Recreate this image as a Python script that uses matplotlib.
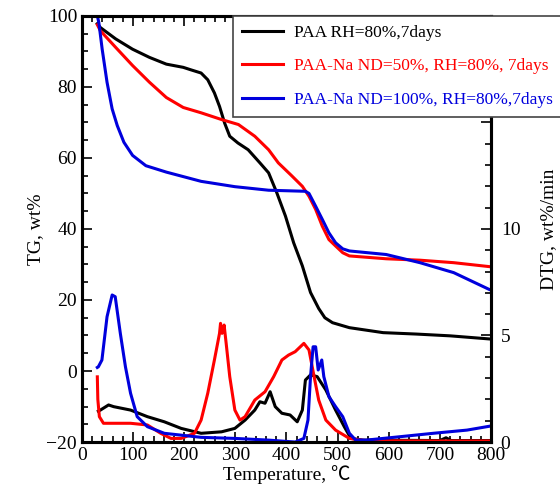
import matplotlib
matplotlib.use('Agg')
import matplotlib.pyplot as plt
from matplotlib.ticker import MultipleLocator, FixedFormatter, FixedLocator

plt.rcParams['font.family'] = ['Liberation Serif', 'Noto Sans CJK SC', 'DejaVu Sans']

labels = ['PAA RH=80%,7days',
          'PAA-Na ND=50%, RH=80%, 7days',
          'PAA-Na ND=100%, RH=80%,7days']
colors = ['black', '#ff0000', '#0000dd']

# TG curves (wt%)
tg_black_t = [30, 36, 66, 99, 132, 165, 198, 213, 233, 246, 259, 269, 279, 289, 305, 325, 348, 365,
              381, 398, 414, 431, 447, 463, 475, 490, 523, 589, 654, 720, 799]
tg_black = [97.8, 96.7, 93.5, 90.6, 88.3, 86.4, 85.5, 84.8, 83.9, 82.0, 78.3, 74.5, 69.8, 66.1, 64.2,
            62.3, 58.6, 55.8, 50.2, 43.6, 36.1, 29.6, 22.1, 17.6, 15.0, 13.6, 12.2, 10.8, 10.4, 9.9, 9.0]

tg_red_t = [30, 36, 66, 99, 132, 165, 198, 233, 273, 306, 338, 365, 384, 410, 431, 444, 457, 470,
            483, 496, 510, 523, 595, 661, 727, 796]
tg_red = [97.5, 95.8, 91.1, 86.0, 81.3, 77.0, 74.2, 72.7, 70.8, 69.4, 66.1, 62.3, 58.6, 55.0, 52.0,
          49.2, 45.5, 40.8, 37.0, 35.2, 33.3, 32.4, 31.6, 31.2, 30.5, 29.4]

tg_blue_t = [30, 33, 39.5, 49, 59, 69, 82, 99, 125, 165, 233, 299, 365, 437, 444, 457, 470, 483, 496,
             510, 523, 595, 661, 727, 796]
tg_blue = [100, 98.1, 90.6, 81.3, 73.8, 69.1, 64.4, 60.7, 57.8, 56.0, 53.4, 51.9, 50.9, 50.6, 50.0,
           46.4, 42.7, 38.9, 36.1, 34.4, 33.8, 32.8, 30.5, 27.7, 23.0]

# DTG curves (wt%/min)
dtg_black_t = [32, 36, 52, 62, 95, 128, 161, 194, 233, 273, 299, 319, 338, 348, 358, 368, 378, 391,
               407, 421, 431, 437, 447, 460, 477, 496, 513, 526, 549, 700, 712, 722, 799]
dtg_black = [1.45, 1.5, 1.74, 1.66, 1.5, 1.19, 0.95, 0.64, 0.41, 0.48, 0.64, 1.03, 1.5, 1.89, 1.82,
             2.36, 1.66, 1.35, 1.27, 0.95, 1.5, 2.91, 3.15, 3.07, 2.44, 1.5, 0.72, 0.17, 0.09, 0.07,
             0.2, 0.07, 0.07]

dtg_red_t = [30, 31, 34, 42, 95, 128, 154, 174, 194, 220, 233, 246, 259, 269, 271, 274, 278, 282,
             289, 299, 309, 319, 338, 358, 375, 391, 404, 417, 434, 444, 454, 463, 477, 496, 523,
             556, 700, 799]
dtg_red = [3.06, 2.0, 1.19, 0.88, 0.88, 0.8, 0.41, 0.17, 0.17, 0.41, 1.03, 2.29, 3.85, 5.1, 5.57,
           5.1, 5.49, 4.63, 3.07, 1.5, 1.03, 1.19, 1.97, 2.36, 3.07, 3.85, 4.08, 4.24, 4.63, 4.32,
           3.07, 1.97, 1.03, 0.56, 0.17, 0.06, 0.05, 0.05]

dtg_blue_t = [30, 32, 39, 49, 59, 65, 75, 85, 95, 108, 128, 161, 233, 299, 365, 417, 434, 442, 447,
              452, 457, 462, 469, 473, 483, 496, 510, 523, 535, 556, 622, 687, 753, 799]
dtg_blue = [3.5, 3.53, 3.85, 5.88, 6.9, 6.82, 5.1, 3.53, 2.29, 1.19, 0.72, 0.41, 0.22, 0.17, 0.09,
            0.0, 0.17, 1.03, 3.07, 4.47, 4.47, 3.38, 3.85, 3.07, 2.13, 1.66, 1.19, 0.41, 0.1, 0.09,
            0.25, 0.41, 0.56, 0.75]

lw = 2.2
fig = plt.figure(figsize=(5.6, 4.95), dpi=100)
ax = fig.add_axes([0.1464, 0.107, 0.7304, 0.861])
ax2 = ax.twinx()

handles = []
for t, y, c in [(tg_black_t, tg_black, colors[0]), (tg_red_t, tg_red, colors[1]),
                (tg_blue_t, tg_blue, colors[2])]:
    h, = ax.plot(t, y, color=c, lw=lw)
    handles.append(h)
for t, y, c in [(dtg_black_t, dtg_black, colors[0]), (dtg_red_t, dtg_red, colors[1]),
                (dtg_blue_t, dtg_blue, colors[2])]:
    ax2.plot(t, y, color=c, lw=lw)

ax.set_xlim(0, 800)
ax.set_ylim(-20, 100)
ax2.set_ylim(0, 20)
ax.xaxis.set_major_locator(MultipleLocator(100))
ax.xaxis.set_minor_locator(MultipleLocator(20))
ax.yaxis.set_major_locator(MultipleLocator(20))
ax.yaxis.set_minor_locator(MultipleLocator(5))
ax2.yaxis.set_major_locator(FixedLocator([0, 5, 10, 15, 20]))
ax2.yaxis.set_major_formatter(FixedFormatter(['0', '5', '10', '', '']))
ax2.yaxis.set_minor_locator(MultipleLocator(1))

for a in (ax, ax2):
    for s in a.spines.values():
        s.set_linewidth(2.2)
ax.tick_params(which='both', direction='in', top=True, right=False, labelsize=14, width=1.2)
ax.tick_params(which='major', length=7)
ax.tick_params(which='minor', length=4)
ax2.tick_params(which='both', direction='in', labelsize=14, width=1.2, pad=7)
ax2.tick_params(which='major', length=7)
ax2.tick_params(which='minor', length=4)

ax.set_xlabel('Temperature, ℃', fontsize=14, labelpad=1)
ax.set_ylabel('TG, wt%', fontsize=14, labelpad=2)
ax2.set_ylabel('DTG, wt%/min', fontsize=14, labelpad=14)

leg = ax2.legend(handles, labels, loc='upper left', bbox_to_anchor=(233 / 560, 1 - 16 / 495),
                 bbox_transform=fig.transFigure, fontsize=12.5, frameon=True, fancybox=False,
                 framealpha=1, edgecolor='#444444', borderpad=0.5, labelspacing=1.0,
                 handlelength=2.4, handletextpad=0.6, borderaxespad=0)
leg.get_frame().set_linewidth(1.2)
for txt, c in zip(leg.get_texts(), colors):
    txt.set_color(c)
leg.set_zorder(10)

fig.savefig('out.png', dpi=100)
